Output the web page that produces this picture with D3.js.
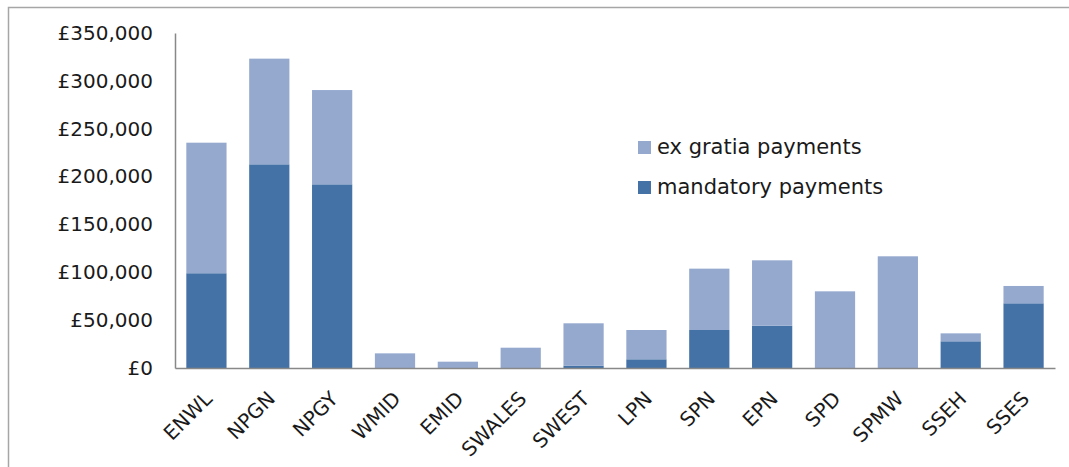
<!DOCTYPE html>
<html>
<head>
<meta charset="utf-8">
<script src="https://cdn.jsdelivr.net/npm/d3@7"></script>
<style>
  body { margin: 0; background: #fff; }
  svg { display: block; font-family: "DejaVu Sans", Verdana, sans-serif; }
</style>
</head>
<body>
<div class="chart"></div>
<script>
const categories = ["ENWL", "NPGN", "NPGY", "WMID", "EMID", "SWALES", "SWEST", "LPN", "SPN", "EPN", "SPD", "SPMW", "SSEH", "SSES"];
const mandatory = [99000, 212800, 191900, 0, 0, 0, 2500, 9100, 39700, 44200, 0, 0, 27900, 67600];
const exGratia = [136400, 110400, 98500, 15300, 6600, 21200, 44200, 30600, 64100, 68300, 80100, 116700, 8300, 18100];
const yTicks = [0, 50000, 100000, 150000, 200000, 250000, 300000, 350000];
const seriesNames = ["ex gratia payments", "mandatory payments"];
const colours = { mandatory: "#4472a6", exGratia: "#95a9cf" };

const width = 1069;
const height = 467;
const margin = { left: 175, right: 14, top: 33, bottom: 99 };

const svg = d3.select(".chart").append("svg")
  .attr("width", width)
  .attr("height", height);

// outer frame (right and bottom edges run off the picture)
svg.append("path")
  .attr("d", "M8.5,467 L8.5,7.5 L1069,7.5")
  .attr("fill", "none")
  .attr("stroke", "#a6a6a6")
  .attr("stroke-width", 1.5);

const x = d3.scaleBand()
  .domain(categories)
  .range([margin.left, width - margin.right])
  .paddingInner(0.36)
  .paddingOuter(0.18);

const y = d3.scaleLinear()
  .domain([0, 350000])
  .range([height - margin.bottom, margin.top]);

const rows = categories.map((c, i) => ({ cat: c, mandatory: mandatory[i], exGratia: exGratia[i] }));
const stacked = d3.stack().keys(["mandatory", "exGratia"])(rows);

svg.append("g")
  .selectAll("g")
  .data(stacked)
  .enter()
  .append("g")
  .attr("fill", d => colours[d.key])
  .selectAll("rect")
  .data(d => d)
  .enter()
  .append("rect")
  .attr("x", d => x(d.data.cat))
  .attr("width", x.bandwidth())
  .attr("y", d => y(d[1]))
  .attr("height", d => y(d[0]) - y(d[1]));

const fmt = d3.format(",");

// y axis
const yAxis = svg.append("g")
  .attr("transform", `translate(${margin.left},0)`)
  .call(d3.axisLeft(y).tickValues(yTicks).tickSize(0).tickPadding(22).tickFormat(d => "£" + fmt(d)));
yAxis.select(".domain").attr("stroke", "#888").attr("stroke-width", 1.5);
yAxis.selectAll("text")
  .attr("font-size", 20)
  .attr("font-family", "DejaVu Sans, Verdana, sans-serif")
  .attr("fill", "#1a1a1a");

// x axis
const xAxis = svg.append("g")
  .attr("transform", `translate(0,${height - margin.bottom})`)
  .call(d3.axisBottom(x).tickSize(0).tickPadding(0));
xAxis.select(".domain").attr("stroke", "#888").attr("stroke-width", 1.5);
xAxis.selectAll("text")
  .attr("font-size", 20)
  .attr("font-family", "DejaVu Sans, Verdana, sans-serif")
  .attr("fill", "#1a1a1a")
  .attr("text-anchor", "end")
  .attr("dy", 0)
  .attr("transform", "translate(7,32) rotate(-45)");

// legend
const legend = svg.append("g").attr("transform", "translate(638,141)");
const legendColours = [colours.exGratia, colours.mandatory];
seriesNames.forEach((name, i) => {
  const row = legend.append("g").attr("transform", `translate(0,${i * 40})`);
  row.append("rect").attr("width", 13).attr("height", 13).attr("fill", legendColours[i]);
  row.append("text")
    .attr("x", 19)
    .attr("y", 13)
    .attr("font-size", 21)
    .attr("fill", "#1a1a1a")
    .text(name);
});
</script>
</body>
</html>
